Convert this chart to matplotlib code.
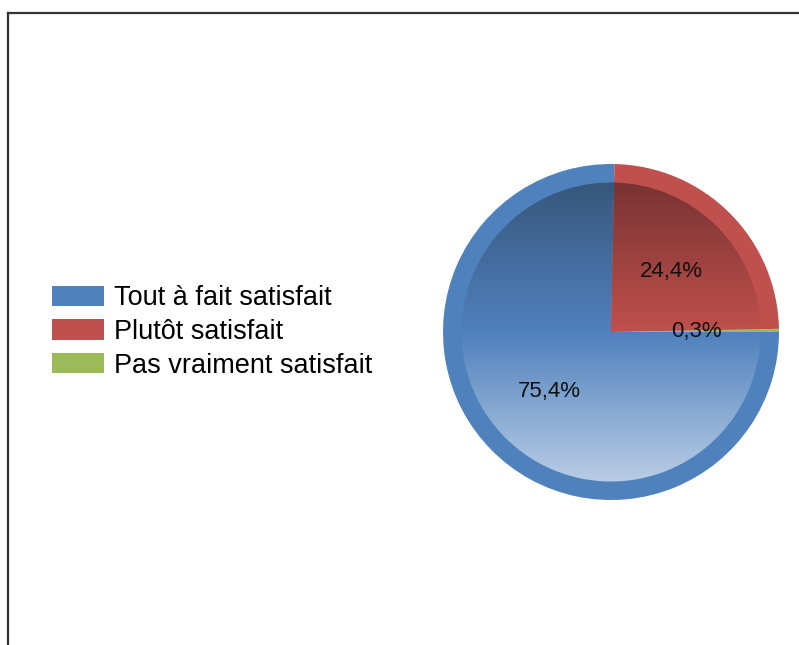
import matplotlib
matplotlib.use("Agg")
import matplotlib.pyplot as plt
import numpy as np
from matplotlib.colors import LinearSegmentedColormap
from matplotlib.lines import Line2D

categories = ["Tout à fait satisfait", "Plutôt satisfait", "Pas vraiment satisfait"]
values = [75.4, 24.4, 0.3]
base_colors = ["#4f81bd", "#c0504d", "#9bbb59"]
dark_colors = ["#37577c", "#783332", "#5f7336"]
light_colors = ["#b9cde5", "#d99694", "#d7e4bd"]

plt.rcParams['font.family'] = ['Liberation Sans', 'DejaVu Sans']

W, H = 799, 645
fig = plt.figure(figsize=(W / 100, H / 100), dpi=100)
fig.patch.set_facecolor('white')

cx, cy, R = 611, 332, 168
ax = fig.add_axes([(cx - R) / W, (H - cy - R) / H, 2 * R / W, 2 * R / H])
ax.set_axis_off()

total = sum(values)
outer, _ = ax.pie(values, colors=base_colors, startangle=0, counterclock=False,
                  radius=1.0, wedgeprops=dict(linewidth=0))

r_in = 0.89
inner, _, autotexts = ax.pie(values, colors=base_colors, startangle=0, counterclock=False,
                             radius=r_in, wedgeprops=dict(linewidth=0),
                             autopct=lambda p: f"{p * total / 100:.1f}%".replace('.', ','),
                             pctdistance=0.51 / r_in,
                             textprops=dict(fontsize=16, color='#111111'))

grad = np.linspace(0, 1, 256).reshape(-1, 1)
for w, dc, bc, lc in zip(inner, dark_colors, base_colors, light_colors):
    cmap = LinearSegmentedColormap.from_list('g', [dc, bc, lc])
    w.set_facecolor('none')
    im = ax.imshow(grad, extent=[-r_in, r_in, -r_in, r_in], origin='upper',
                   cmap=cmap, aspect='auto', zorder=w.get_zorder() + 0.1,
                   interpolation='bilinear')
    im.set_clip_path(w)
for t in autotexts:
    t.set_zorder(10)

ax.set_xlim(-1, 1)
ax.set_ylim(-1, 1)
ax.set_aspect('equal')

fig.legend(handles=outer, labels=categories, loc='center left',
           bbox_to_anchor=(52 / W, 1 - 332 / H), frameon=False,
           borderpad=0, borderaxespad=0, fontsize=19.5,
           handlelength=1.93, handleheight=0.78, handletextpad=0.37,
           labelspacing=0.28)

# frame lines (left and top)
fig.add_artist(Line2D([7.5 / W, 7.5 / W], [0, 1 - 13 / H], color='#333333', lw=1.6,
                      transform=fig.transFigure))
fig.add_artist(Line2D([7.5 / W, 1], [1 - 13 / H, 1 - 13 / H], color='#333333', lw=1.6,
                      transform=fig.transFigure))

fig.savefig('out.png', dpi=100)
